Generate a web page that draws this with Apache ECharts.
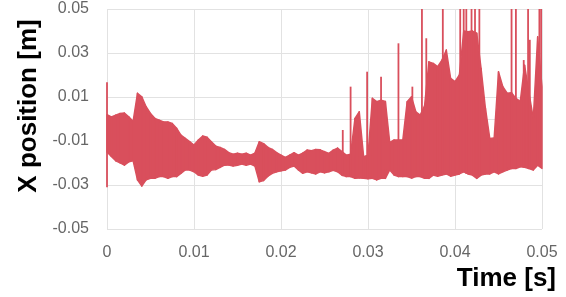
<!DOCTYPE html>
<html>
<head>
<meta charset="utf-8">
<script src="https://cdn.jsdelivr.net/npm/echarts@6/dist/echarts.min.js"></script>
<style>
  html, body { margin: 0; padding: 0; background: #fff; }
  #chart { width: 566px; height: 297px; }
</style>
</head>
<body>
<div id="chart"></div>
<script>
// envelope of the trace, one reading every 0.5 ms
var upper = [
  0.002, 0.001, 0.0018, 0.0025, 0.0027, 0.001, -0.001, 0.0117, 0.0101, 0.0056,
  0.0025, 0.0003, -0.0005, -0.0013, -0.0013, -0.002, -0.0042, -0.0073, -0.0088, -0.0103,
  -0.0118, -0.0095, -0.0077, -0.0083, -0.0103, -0.0123, -0.0129, -0.0138, -0.0153, -0.016,
  -0.0155, -0.016, -0.0155, -0.0164, -0.0155, -0.0103, -0.0112, -0.0129, -0.0138, -0.0153,
  -0.0164, -0.0174, -0.0164, -0.0153, -0.0164, -0.0155, -0.0141, -0.0144, -0.0138, -0.014,
  -0.0148, -0.0156, -0.0141, -0.0132, -0.0148, -0.0164, -0.016, 0.0003, 0.0033, -0.0171,
  -0.0164, 0.0094, 0.0079, 0.0086, 0.008, -0.0106, -0.0095, -0.0095, -0.0095, 0.0079,
  0.0101, 0.0033, 0.0018, 0.006, 0.026, 0.0253, 0.0238, 0.0268, 0.0314, 0.0185,
  0.017, 0.02, 0.04, 0.0397, 0.04, 0.039, 0.023, 0.0049, -0.0088, -0.0086,
  0.0215, 0.0147, 0.0117, 0.012, 0.0094, 0.008, 0.0245, 0.012, 0.0004, 0.0374,
  0.0147
];
var lower = [
  -0.015, -0.017, -0.019, -0.02, -0.021, -0.0195, -0.019, -0.0277, -0.0305, -0.0277,
  -0.027, -0.027, -0.0262, -0.0262, -0.027, -0.0262, -0.0262, -0.0247, -0.0232, -0.0232,
  -0.024, -0.0255, -0.026, -0.0255, -0.0232, -0.023, -0.022, -0.021, -0.0209, -0.0214,
  -0.021, -0.0205, -0.021, -0.0205, -0.0214, -0.0285, -0.028, -0.026, -0.0247, -0.024,
  -0.0236, -0.0232, -0.022, -0.0214, -0.0232, -0.0247, -0.024, -0.0245, -0.025, -0.024,
  -0.0245, -0.024, -0.0233, -0.024, -0.0255, -0.0262, -0.0262, -0.027, -0.0268, -0.027,
  -0.0272, -0.027, -0.0277, -0.027, -0.027, -0.0232, -0.0255, -0.0262, -0.0262, -0.0262,
  -0.0268, -0.0262, -0.0262, -0.027, -0.027, -0.0255, -0.026, -0.0255, -0.025, -0.026,
  -0.0255, -0.025, -0.024, -0.025, -0.0255, -0.027, -0.0255, -0.025, -0.025, -0.024,
  -0.025, -0.024, -0.0232, -0.0225, -0.0225, -0.0217, -0.022, -0.0225, -0.0232, -0.021,
  -0.0225
];
var sampleStep = 0.0005;

// single sharp spikes of the trace
var spikeTime = [0, 0.0271, 0.028, 0.0299, 0.0315, 0.0335, 0.0351, 0.0362, 0.0367, 0.0386,
  0.0406, 0.041, 0.0413, 0.0419, 0.0423, 0.0428, 0.0465, 0.047, 0.0479, 0.0484, 0.0486, 0.0497, 0.0499];
var spikeHigh = [0.0167, -0.005, 0.0147, 0.0215, 0.0192, 0.0344, 0.0147, 0.05, 0.0367, 0.05,
  0.05, 0.05, 0.05, 0.05, 0.05, 0.05, 0.05, 0.05, 0.0268, 0.05, 0.036, 0.05, 0.05];
var spikeLow = [-0.031, -0.026, -0.026, -0.027, -0.027, -0.026, -0.027, -0.026, -0.027, -0.025,
  -0.024, -0.024, -0.025, -0.025, -0.026, -0.026, -0.0225, -0.0225, -0.022, -0.0225, -0.0225, -0.021, -0.022];

var yLabels = [0.05, 0.03, 0.01, -0.01, -0.03, -0.05];
var yGrid = [0.05, 0.03, 0.01, 0, -0.01, -0.03, -0.05];

var red = '#d94f5c';
var gridColor = '#e2e2e2';
var labelFont = 'Liberation Sans, Arial, sans-serif';

var times = upper.map(function (v, i) { return +(i * sampleStep).toFixed(4); });

// one quad per pair of neighbouring readings
var bandData = [];
for (var i = 0; i < times.length - 1; i++) {
  bandData.push([times[i], lower[i], upper[i], times[i + 1], lower[i + 1], upper[i + 1]]);
}

var chart = echarts.init(document.getElementById('chart'));
var option = {
  animation: false,
  backgroundColor: '#fff',
  grid: { left: 107, right: 24, top: 9, bottom: 68 },
  xAxis: {
    type: 'value',
    min: 0,
    max: 0.05,
    interval: 0.01,
    axisLine: { show: false },
    axisTick: { show: false },
    splitLine: { show: true, lineStyle: { color: gridColor, width: 1 } },
    axisLabel: { color: '#666', fontSize: 16, fontFamily: labelFont, margin: 16 }
  },
  yAxis: {
    type: 'value',
    min: -0.05,
    max: 0.05,
    interval: 0.01,
    axisLine: { show: false },
    axisTick: { show: false },
    splitLine: { show: false },
    axisLabel: {
      color: '#666', fontSize: 16, fontFamily: labelFont, margin: 18,
      formatter: function (v) {
        for (var i = 0; i < yLabels.length; i++) {
          if (Math.abs(yLabels[i] - v) < 1e-6) return yLabels[i].toFixed(2);
        }
        return '';
      }
    }
  },
  graphic: [
    {
      type: 'text', x: 29, y: 106, rotation: Math.PI / 2,
      style: { text: 'X position [m]', x: 0, y: 0, align: 'center', verticalAlign: 'middle',
        fill: '#000', font: 'bold 26px Liberation Sans, Arial, sans-serif' }
    },
    {
      type: 'text', x: 556, y: 279,
      style: { text: 'Time [s]', x: 0, y: 0, align: 'right', verticalAlign: 'middle',
        fill: '#000', font: 'bold 26px Liberation Sans, Arial, sans-serif' }
    }
  ],
  series: [
    {
      name: 'grid',
      type: 'line',
      symbol: 'none',
      data: [],
      z: 0,
      markLine: {
        z: 0,
        silent: true,
        symbol: 'none',
        label: { show: false },
        lineStyle: { color: gridColor, type: 'solid', width: 1 },
        data: yGrid.map(function (v) { return { yAxis: v }; })
      }
    },
    {
      name: 'X position',
      type: 'custom',
      encode: { x: [0, 3], y: [1, 2, 4, 5] },
      data: bandData,
      renderItem: function (params, api) {
        var p1 = api.coord([api.value(0), api.value(2)]);
        var p2 = api.coord([api.value(3), api.value(5)]);
        var p3 = api.coord([api.value(3), api.value(4)]);
        var p4 = api.coord([api.value(0), api.value(1)]);
        return {
          type: 'polygon',
          shape: { points: [p1, p2, p3, p4] },
          style: { fill: red, stroke: red, lineWidth: 1.4, lineJoin: 'round' }
        };
      },
      z: 3
    },
    {
      name: 'spikes',
      type: 'custom',
      encode: { x: 0, y: [1, 2] },
      data: spikeTime.map(function (t, i) { return [t, spikeLow[i], spikeHigh[i]]; }),
      renderItem: function (params, api) {
        var a = api.coord([api.value(0), api.value(1)]);
        var b = api.coord([api.value(0), api.value(2)]);
        return {
          type: 'line',
          shape: { x1: a[0], y1: a[1], x2: b[0], y2: b[1] },
          style: { stroke: red, lineWidth: 1.8 }
        };
      },
      z: 4
    }
  ]
};
chart.setOption(option);
</script>
</body>
</html>
